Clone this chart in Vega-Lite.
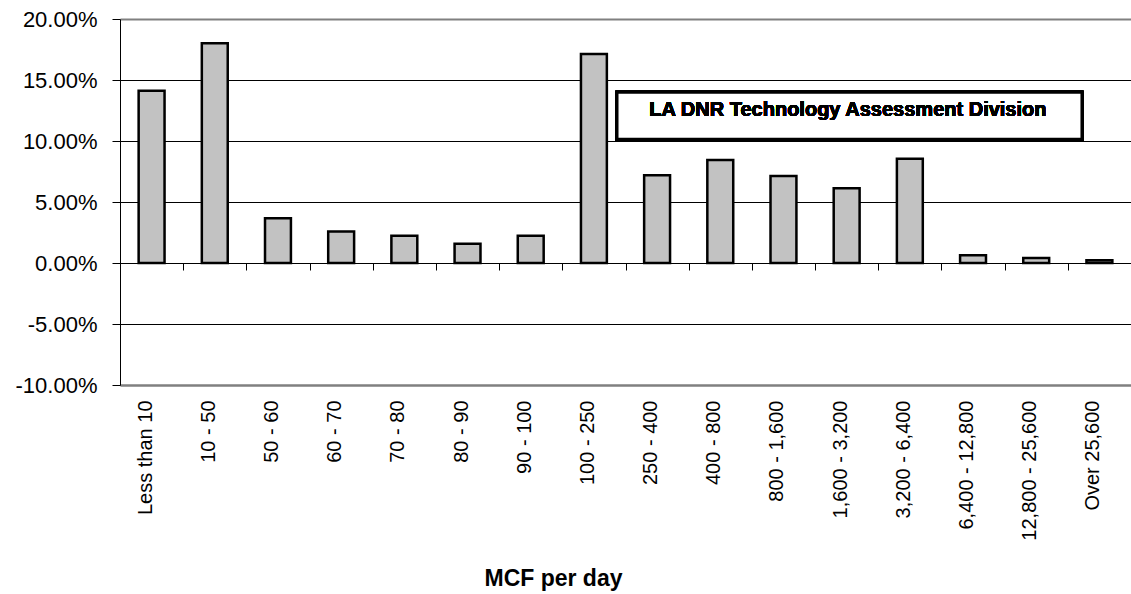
{
  "$schema": "https://vega.github.io/schema/vega-lite/v6.json",
  "width": 1011,
  "height": 366,
  "autosize": {"type": "none"},
  "padding": {"left": 120, "top": 19, "right": 0, "bottom": 209},
  "background": "white",
  "config": {"view": {"stroke": null}, "font": "Liberation Sans"},
  "data": {
    "values": [
      {"range": "Less than 10", "share": 0.1412},
      {"range": "10 - 50", "share": 0.1801},
      {"range": "50 - 60", "share": 0.0366},
      {"range": "60 - 70", "share": 0.0259},
      {"range": "70 - 80", "share": 0.0224},
      {"range": "80 - 90", "share": 0.0158},
      {"range": "90 - 100", "share": 0.0224},
      {"range": "100 - 250", "share": 0.1713},
      {"range": "250 - 400", "share": 0.072},
      {"range": "400 - 800", "share": 0.0844},
      {"range": "800 - 1,600", "share": 0.0713},
      {"range": "1,600 - 3,200", "share": 0.0612},
      {"range": "3,200 - 6,400", "share": 0.0855},
      {"range": "6,400 - 12,800", "share": 0.0063},
      {"range": "12,800 - 25,600", "share": 0.0041},
      {"range": "Over 25,600", "share": 0.0022}
    ]
  },
  "resolve": {"scale": {"x": "independent", "y": "independent"}, "axis": {"x": "independent", "y": "independent"}},
  "layer": [
    {
      "resolve": {"axis": {"x": "independent"}},
      "layer": [
        {
          "mark": {"type": "bar", "fill": "#c2c2c2", "stroke": "black", "strokeWidth": 2.5, "width": {"band": 0.41}},
          "encoding": {
            "x": {
              "field": "range", "type": "nominal", "sort": null,
              "scale": {"paddingInner": 0, "paddingOuter": 0},
              "axis": {
                "orient": "bottom", "domain": true, "domainColor": "#808080", "domainWidth": 2,
                "ticks": false, "grid": false,
                "labelAngle": -90, "labelAlign": "right", "labelBaseline": "middle", "labelOffset": -6,
                "labelPadding": 15, "labelFontSize": 20, "labelColor": "black", "labelLimit": 0, "labelOverlap": false,
                "title": "MCF per day", "titleFontSize": 23, "titleFontWeight": "bold", "titleColor": "black",
                "titleX": 433, "titleY": 200, "titleBaseline": "alphabetic", "titleAlign": "center", "titleAnchor": null
              }
            },
            "y": {
              "field": "share", "type": "quantitative",
              "scale": {"domain": [-0.1, 0.2], "nice": false, "zero": false},
              "axis": {
                "orient": "left", "values": [-0.1, -0.05, 0, 0.05, 0.1, 0.15, 0.2],
                "labelExpr": "replace(format(datum.value, '.2%'), '\u2212', '-')",
                "labelFontSize": 22, "labelColor": "black", "labelPadding": 15,
                "tickSize": 8, "tickColor": "black", "domainColor": "black", "domainWidth": 1,
                "grid": true,
                "gridColor": {"condition": {"test": "datum.value > 0.19 || datum.value < -0.09", "value": "#808080"}, "value": "black"},
                "gridWidth": {"condition": {"test": "datum.value > 0.19 || datum.value < -0.09", "value": 2}, "value": 1},
                "title": null
              }
            }
          }
        },
        {
          "mark": {"type": "rule", "opacity": 0},
          "encoding": {
            "x": {
              "field": "range", "type": "nominal", "sort": null,
              "axis": {
                "orient": "bottom", "offset": -122, "domain": false, "labels": false,
                "ticks": true, "tickBand": "extent", "tickSize": 7, "tickColor": "black", "tickWidth": 1,
                "grid": false, "title": null
              }
            }
          }
        }
      ]
    },
    {
      "mark": {"type": "rect", "fill": "white", "stroke": "black", "strokeWidth": 3},
      "encoding": {
        "x": {"datum": 0.4916, "type": "quantitative", "scale": {"domain": [0, 1], "nice": false, "zero": false}, "axis": null},
        "x2": {"datum": 0.9515},
        "y": {"datum": 0.1399, "type": "quantitative", "scale": {"domain": [-0.1, 0.2], "nice": false, "zero": false}, "axis": null},
        "y2": {"datum": 0.1014}
      }
    },
    {
      "mark": {"type": "text", "text": "LA DNR Technology Assessment Division", "fontSize": 20, "fontWeight": "bold", "color": "black", "align": "center", "baseline": "middle"},
      "encoding": {
        "x": {"datum": 0.72, "type": "quantitative", "scale": {"domain": [0, 1], "nice": false, "zero": false}, "axis": null},
        "y": {"datum": 0.1254, "type": "quantitative", "scale": {"domain": [-0.1, 0.2], "nice": false, "zero": false}, "axis": null}
      }
    }
  ]
}
